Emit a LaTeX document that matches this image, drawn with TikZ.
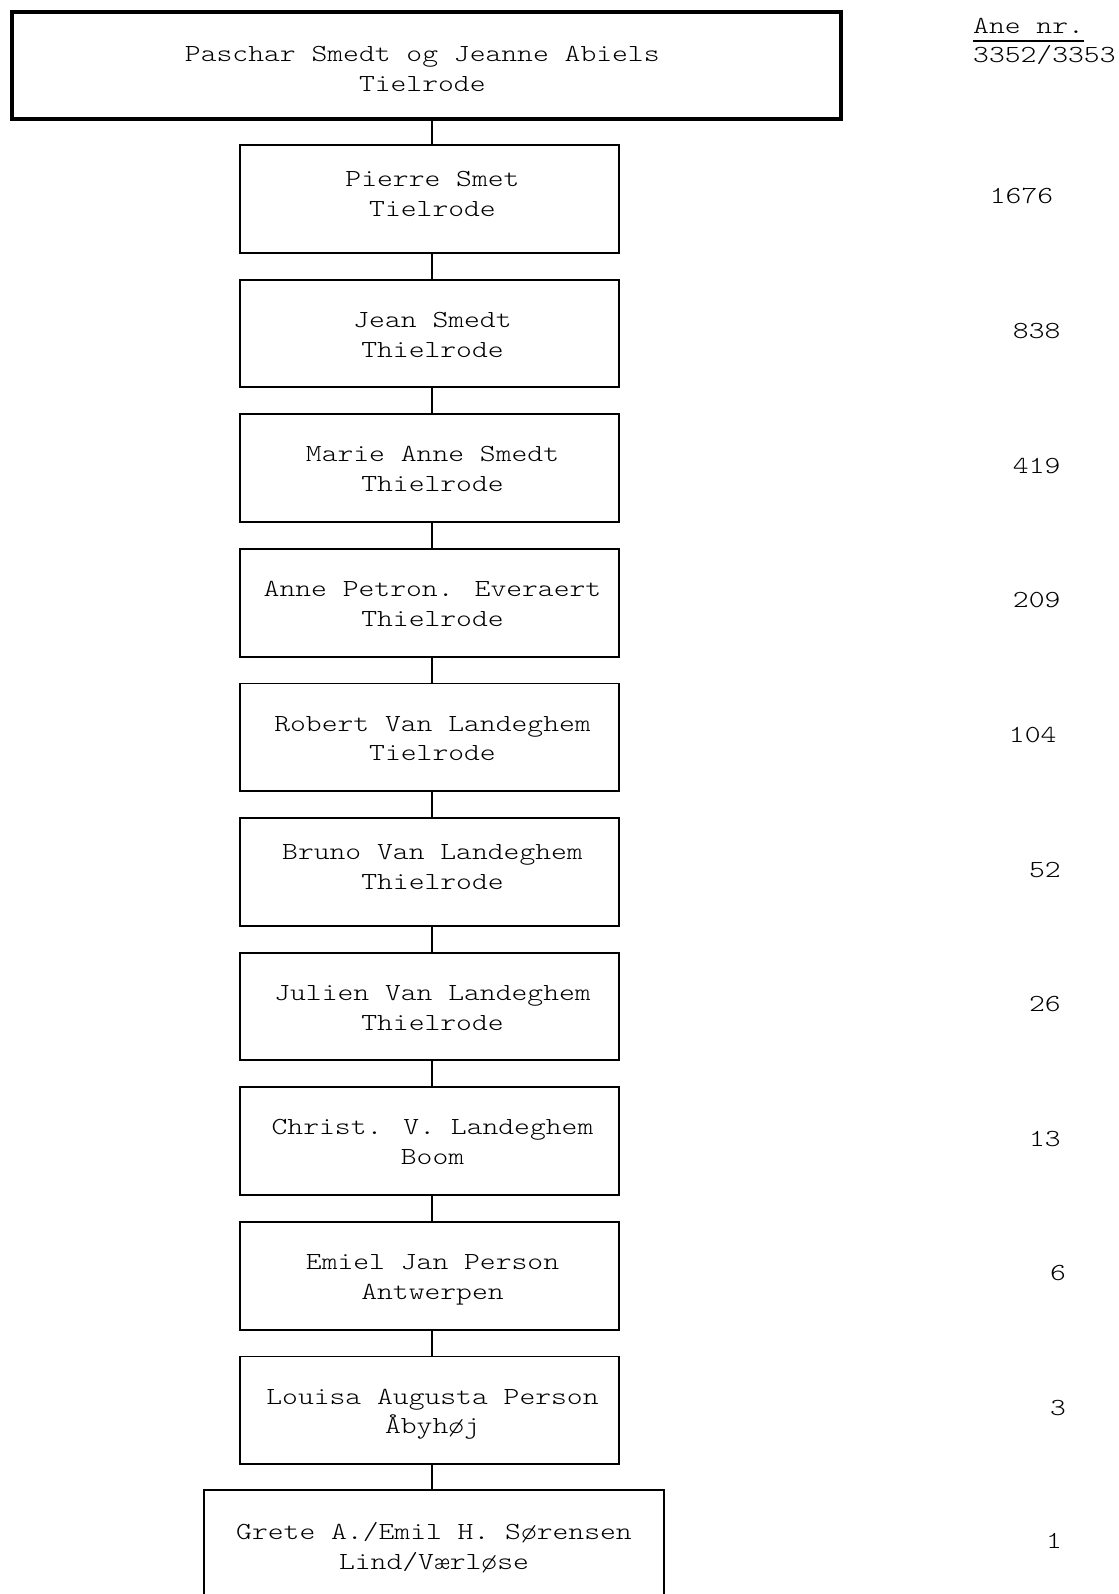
\documentclass[tikz,border=0pt]{standalone}
\usepackage{fontspec}
\newfontfamily\cmono[FakeStretch=1.23]{lmmonolt10-regular.otf}
\begin{document}
\begin{tikzpicture}[x=1pt,y=-1pt,
  every node/.style={inner sep=0pt},
  txt/.style={font=\cmono\fontsize{24.5}{29.8}\selectfont, align=center, anchor=base},
  person/.style={draw, line width=1.9pt, minimum width=379pt, minimum height=107.7pt},
  topbox/.style={draw, line width=4pt, minimum width=828.5pt, minimum height=107.3pt},
  lastbox/.style={draw, line width=1.9pt, minimum width=460pt, minimum height=122pt},
  anenum/.style={font=\cmono\fontsize{24.5}{29.8}\selectfont, anchor=base},
  link/.style={line width=1.9pt}]
\useasboundingbox (0,0) rectangle (1118,1594);
\coordinate (spine) at (432.3,0);

% boxes
\node[topbox] (b0) at (426.3,65.7) {};
\node[person] (b1) at (429.5,198.9) {};
\node[person] (b2) at (429.5,333.5) {};
\node[person] (b3) at (429.5,468.1) {};
\node[person] (b4) at (429.5,602.7) {};
\node[person] (b5) at (429.5,737.3) {};
\node[person] (b6) at (429.5,871.9) {};
\node[person] (b7) at (429.5,1006.5) {};
\node[person] (b8) at (429.5,1141.1) {};
\node[person] (b9) at (429.5,1275.7) {};
\node[person] (b10) at (429.5,1410.3) {};
\node[lastbox] (b11) at (434,1551) {};

% names (anchor = baseline of the last line)
\node[txt] (t0) at (422.3,91.8) {Paschar Smedt og Jeanne Abiels\\Tielrode};
\node[txt] (t1) at (432.5,216.5) {Pierre Smet\\Tielrode};
\node[txt] (t2) at (432.5,357.1) {Jean Smedt\\Thielrode};
\node[txt] (t3) at (432.5,491.7) {Marie Anne Smedt\\Thielrode};
\node[txt] (t4) at (432.5,626.3) {Anne Petron. Everaert\\Thielrode};
\node[txt] (t5) at (432.5,760.9) {Robert Van Landeghem\\Tielrode};
\node[txt] (t6) at (432.5,889.5) {Bruno Van Landeghem\\Thielrode};
\node[txt] (t7) at (432.5,1030.1) {Julien Van Landeghem\\Thielrode};
\node[txt] (t8) at (432.5,1164.7) {Christ. V. Landeghem\\Boom};
\node[txt] (t9) at (432.5,1299.3) {Emiel Jan Person\\Antwerpen};
\node[txt] (t10) at (432.5,1433.9) {Louisa Augusta Person\\Åbyhøj};
\node[txt] (t11) at (434,1569) {Grete A./Emil H. Sørensen\\Lind/Værløse};

% connectors
\foreach \a/\b in {b0/b1,b1/b2,b2/b3,b3/b4,b4/b5,b5/b6,b6/b7,b7/b8,b8/b9,b9/b10,b10/b11}
  \draw[link] (\a.south -| spine) -- (\b.north -| spine);

% Ane nr.
\node[anenum, anchor=base west] (ane) at (973,34) {Ane nr.};
\draw[line width=1.5pt] ([yshift=-7pt]ane.base west) -- ([yshift=-7pt]ane.base east);
\node[anenum, anchor=base west] (anetop) at (973,62.5) {3352/3353};

\node[anenum] (n1) at (1021.5,204) {1676};
\node[anenum] (n2) at (1036.7,338.6) {838};
\node[anenum] (n3) at (1036.7,473.2) {419};
\node[anenum] (n4) at (1036.7,607.8) {209};
\node[anenum] (n5) at (1032.7,742.4) {104};
\node[anenum] (n6) at (1044.9,877) {52};
\node[anenum] (n7) at (1044.9,1011.6) {26};
\node[anenum] (n8) at (1044.9,1146.2) {13};
\node[anenum] (n9) at (1058,1280.8) {6};
\node[anenum] (n10) at (1058,1415.4) {3};
\node[anenum] (n11) at (1054,1548) {1};
\end{tikzpicture}
\end{document}
